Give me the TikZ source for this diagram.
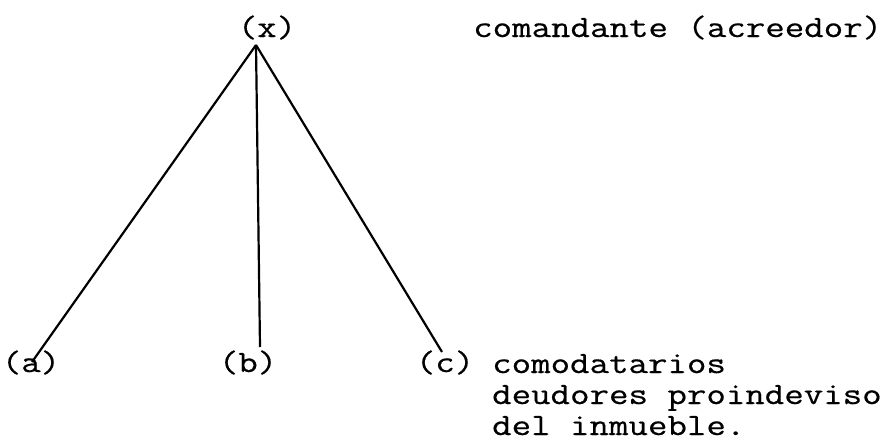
\documentclass[tikz,border=0pt]{standalone}
\usepackage{fontspec}
\newfontfamily\typew{Latin Modern Mono}[FakeStretch=1.22,FakeBold=0.5]
\begin{document}
\begin{tikzpicture}[x=1pt,y=1pt,
  lbl/.style={inner sep=0pt, font=\typew\fontsize{31}{31}\selectfont},
  conn/.style={line width=2.2pt, black}]
\useasboundingbox (0,0) rectangle (891,-442);
\node[lbl, anchor=base] (x) at (267,-37) {(x)};
\node[lbl, anchor=base west] (cred) at (473,-37) {comandante (acreedor)};
\node[lbl, anchor=base] (a) at (31,-372) {(a)};
\node[lbl, anchor=base] (b) at (248,-372) {(b)};
\node[lbl, anchor=base] (c) at (445,-372) {(c)};
\node[lbl, anchor=base west] (t1) at (492,-373) {comodatarios};
\node[lbl, anchor=base west] (t2) at (492,-404) {deudores proindeviso};
\node[lbl, anchor=base west] (t3) at (492,-435) {del inmueble.};
\coordinate (apex) at (256,-45);
\coordinate (aend) at (32,-362);
\coordinate (bend) at (260,-347);
\coordinate (cend) at (442,-352);
\draw[conn] (apex) -- (aend);
\draw[conn] (apex) -- (bend);
\draw[conn] (apex) -- (cend);
\end{tikzpicture}
\end{document}
